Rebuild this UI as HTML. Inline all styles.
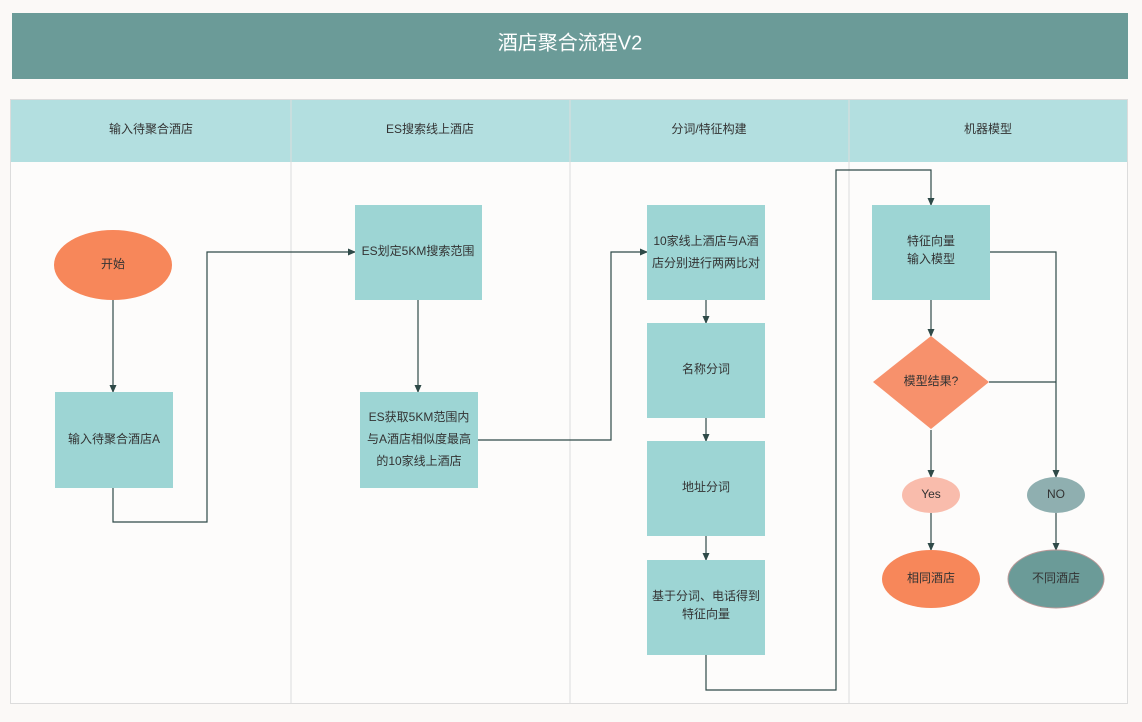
<!DOCTYPE html>
<html><head><meta charset="utf-8"><style>
html,body{margin:0;padding:0;background:#fbf9f7;}
svg{display:block}
text{font-family:"Liberation Sans","Noto Sans CJK SC",sans-serif;fill:#333;text-anchor:middle;dominant-baseline:middle;font-size:12px}
</style></head><body>
<svg width="1142" height="722" viewBox="0 0 1142 722" xmlns="http://www.w3.org/2000/svg">
<defs><marker id="a" markerWidth="8" markerHeight="8" refX="7" refY="4" orient="auto" markerUnits="userSpaceOnUse"><path d="M0,0.5 L8,4 L0,7.5 z" fill="#2f4a48"/></marker></defs>
<rect width="1142" height="722" fill="#fbf9f7"/>
<rect x="12" y="13" width="1116" height="66" fill="#6b9b98"/>
<text x="570" y="44" style="fill:#fff;font-size:20px">酒店聚合流程V2</text>
<rect x="10.5" y="99.5" width="1117" height="604" fill="#fdfcfb" stroke="#dcdcdc"/>
<rect x="11" y="100" width="1116" height="62" fill="#b3dfe0"/>
<g stroke="#dcdcdc"><line x1="291" y1="100" x2="291" y2="703"/><line x1="570" y1="100" x2="570" y2="703"/><line x1="849" y1="100" x2="849" y2="703"/></g>
<text x="151" y="130">输入待聚合酒店</text>
<text x="430" y="130">ES搜索线上酒店</text>
<text x="709" y="130">分词/特征构建</text>
<text x="988" y="130">机器模型</text>

<g fill="none" stroke="#2f4a48" stroke-width="1.2">
<path d="M113,300 V392" marker-end="url(#a)"/>
<path d="M113,488 V522 H207 V252 H355" marker-end="url(#a)"/>
<path d="M418,300 V392" marker-end="url(#a)"/>
<path d="M478,440 H611 V252 H647" marker-end="url(#a)"/>
<path d="M706,300 V323" marker-end="url(#a)"/>
<path d="M706,418 V441" marker-end="url(#a)"/>
<path d="M706,536 V560" marker-end="url(#a)"/>
<path d="M706,655 V690 H836 V170 H931 V205" marker-end="url(#a)"/>
<path d="M931,300 V336" marker-end="url(#a)"/>
<path d="M931,430 V477" marker-end="url(#a)"/>
<path d="M931,513 V550" marker-end="url(#a)"/>
<path d="M990,252 H1056 V477" marker-end="url(#a)"/>
<path d="M989,382 H1056"/>
<path d="M1056,513 V550" marker-end="url(#a)"/>
</g>

<ellipse cx="113" cy="265" rx="59" ry="35" fill="#f7875a"/>
<text x="113" y="265">开始</text>
<rect x="55" y="392" width="118" height="96" fill="#9dd5d4"/>
<text x="114" y="440">输入待聚合酒店A</text>
<rect x="355" y="205" width="127" height="95" fill="#9dd5d4"/>
<text x="418" y="252">ES划定5KM搜索范围</text>
<rect x="360" y="392" width="118" height="96" fill="#9dd5d4"/>
<text x="419" y="418">ES获取5KM范围内</text>
<text x="419" y="440">与A酒店相似度最高</text>
<text x="419" y="462">的10家线上酒店</text>
<rect x="647" y="205" width="118" height="95" fill="#9dd5d4"/>
<text x="706" y="242">10家线上酒店与A酒</text>
<text x="706" y="264">店分别进行两两比对</text>
<rect x="647" y="323" width="118" height="95" fill="#9dd5d4"/>
<text x="706" y="370">名称分词</text>
<rect x="647" y="441" width="118" height="95" fill="#9dd5d4"/>
<text x="706" y="488">地址分词</text>
<rect x="647" y="560" width="118" height="95" fill="#9dd5d4"/>
<text x="706" y="597">基于分词、电话得到</text>
<text x="706" y="615">特征向量</text>
<rect x="872" y="205" width="118" height="95" fill="#9dd5d4"/>
<text x="931" y="242">特征向量</text>
<text x="931" y="260">输入模型</text>
<path d="M931,336 L989,382 L931,429 L873,382 z" fill="#f7916c"/>
<text x="931" y="382">模型结果?</text>
<ellipse cx="931" cy="495" rx="29" ry="18" fill="#f9bcac"/>
<text x="931" y="495">Yes</text>
<ellipse cx="1056" cy="495" rx="29" ry="18" fill="#8fafb0"/>
<text x="1056" y="495">NO</text>
<ellipse cx="931" cy="579" rx="49" ry="29" fill="#f7875a"/>
<text x="931" y="579">相同酒店</text>
<ellipse cx="1056" cy="579" rx="48" ry="29" fill="#6b9b98" stroke="#b99" stroke-width="1"/>
<text x="1056" y="579">不同酒店</text>
</svg>
</body></html>
